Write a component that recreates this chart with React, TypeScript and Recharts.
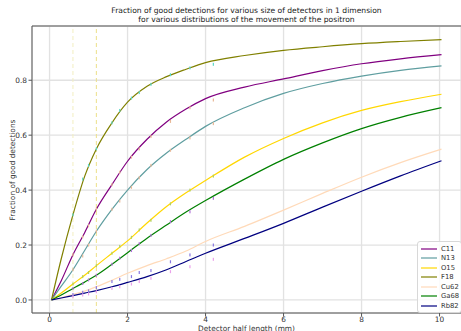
import React from 'react';
import { ComposedChart, Line, Scatter, XAxis, YAxis, CartesianGrid, ReferenceLine } from 'recharts';

// curves
const curveX = [0.05, 0.3, 0.6, 0.9, 1.2, 1.6, 2, 2.5, 3, 3.5, 4, 5, 6, 7, 8, 9, 10.05];
const c11 = [0, 0.07, 0.165, 0.245, 0.33, 0.42, 0.505, 0.585, 0.648, 0.695, 0.733, 0.775, 0.805, 0.835, 0.86, 0.878, 0.893];
const n13 = [0, 0.05, 0.11, 0.18, 0.25, 0.33, 0.4, 0.475, 0.535, 0.585, 0.632, 0.7, 0.752, 0.788, 0.815, 0.836, 0.852];
const o15 = [0, 0.025, 0.058, 0.09, 0.125, 0.17, 0.215, 0.28, 0.34, 0.39, 0.435, 0.52, 0.588, 0.645, 0.69, 0.722, 0.749];
const f18 = [0, 0.15, 0.31, 0.45, 0.55, 0.645, 0.72, 0.778, 0.813, 0.84, 0.864, 0.89, 0.909, 0.922, 0.933, 0.941, 0.948];
const cu62 = [0, 0.008, 0.02, 0.032, 0.048, 0.072, 0.097, 0.125, 0.15, 0.178, 0.213, 0.268, 0.327, 0.388, 0.447, 0.5, 0.549];
const ga68 = [0, 0.018, 0.042, 0.065, 0.09, 0.13, 0.172, 0.225, 0.273, 0.32, 0.362, 0.44, 0.512, 0.572, 0.624, 0.665, 0.7];
const rb82 = [0, 0.007, 0.016, 0.025, 0.034, 0.048, 0.064, 0.085, 0.11, 0.14, 0.17, 0.224, 0.279, 0.338, 0.396, 0.452, 0.507];

// simulated points (small tick marks)
const markX = [0.6, 0.85, 1.0, 1.2, 1.6, 1.8, 2.1, 2.3, 2.6, 3.1, 3.6, 4.2];
const f18Marks = [0.31, 0.44, 0.49, 0.55, 0.645, 0.69, 0.735, 0.755, 0.785, 0.82, 0.845, 0.858];
const c11Marks = [0.165, 0.23, 0.27, 0.33, 0.42, 0.465, 0.52, 0.55, 0.595, 0.65, 0.7, 0.728];
const n13Marks = [0.11, 0.16, 0.2, 0.25, 0.33, 0.36, 0.41, 0.445, 0.49, 0.545, 0.59, 0.642];
const o15Marks = [0.058, 0.085, 0.1, 0.125, 0.17, 0.195, 0.228, 0.255, 0.29, 0.35, 0.4, 0.451];
const ga68Marks = [0.042, 0.06, 0.073, 0.09, 0.13, 0.152, 0.18, 0.205, 0.235, 0.285, 0.321, 0.37];
const blueMarks = [0.02, 0.028, 0.033, 0.045, 0.067, 0.075, 0.085, 0.1, 0.107, 0.139, 0.164, 0.2];
const pinkMarks = [0.012, 0.018, 0.022, 0.03, 0.042, 0.048, 0.058, 0.067, 0.079, 0.103, 0.121, 0.148];

const xTicks = [0, 2, 4, 6, 8, 10];
const yTicks = [0, 0.2, 0.4, 0.6, 0.8];
const xDomain = [-0.45, 10.55];
const yDomain = [-0.0475, 0.9975];
const dashedX = [0.6, 1.2];

const series = [
  { key: 'C11', values: c11, color: '#800080' },
  { key: 'N13', values: n13, color: '#5f9ea0' },
  { key: 'O15', values: o15, color: '#ffd700' },
  { key: 'F18', values: f18, color: '#808000' },
  { key: 'Cu62', values: cu62, color: '#ffdab9' },
  { key: 'Ga68', values: ga68, color: '#008000' },
  { key: 'Rb82', values: rb82, color: '#000080' },
];

const markSets = [
  { key: 'mF18', values: f18Marks, color: '#5cd8c8' },
  { key: 'mC11', values: c11Marks, color: '#e8b898' },
  { key: 'mN13', values: n13Marks, color: '#e8b898' },
  { key: 'mO15', values: o15Marks, color: '#b0d060' },
  { key: 'mGa68', values: ga68Marks, color: '#b070d8' },
  { key: 'mBlue', values: blueMarks, color: '#8878e0' },
  { key: 'mPink', values: pinkMarks, color: '#eaa0ea' },
];

const chartData = curveX.map((x, i) => {
  const row: any = { x };
  series.forEach(s => { row[s.key] = s.values[i]; });
  return row;
});

const font = '"DejaVu Sans", sans-serif';

const TickMark = (props: any) => {
  const { cx, cy, fill } = props;
  return <rect x={cx - 0.6} y={cy - 1.5} width={1.2} height={3} fill={fill} />;
};

export default function App() {
  return (
    <div style={{ position: 'relative', width: 461, height: 331, overflow: 'hidden', fontFamily: font }}>
      <style>{'body{margin:0}'}</style>
      <div style={{ position: 'absolute', left: 32, width: 429, top: 6, textAlign: 'center', fontSize: 7.6, lineHeight: '9px', color: '#222' }}>
        Fraction of good detections for various size of detectors in 1 dimension<br />
        for various distributions of the movement of the positron
      </div>
      <div style={{
        position: 'absolute', left: 12, top: 170, transform: 'translate(-50%, -50%) rotate(-90deg)',
        whiteSpace: 'nowrap', fontSize: 7.4, color: '#333',
      }}>
        Fraction of good detections
      </div>
      <div style={{ position: 'absolute', left: 32, width: 429, top: 324, textAlign: 'center', fontSize: 7.4, color: '#333', whiteSpace: 'nowrap' }}>
        Detector half length (mm)
      </div>
      <ComposedChart
        width={461}
        height={331}
        data={chartData}
        margin={{ top: 26, right: 0, left: 0, bottom: 0 }}
        style={{ position: 'absolute', left: 0, top: 0 }}
      >
        <CartesianGrid stroke="#e2e2e2" strokeWidth={1.3} />
        <XAxis
          dataKey="x"
          type="number"
          domain={xDomain}
          ticks={xTicks}
          height={18}
          tickSize={3.5}
          tickMargin={0}
          stroke="#555"
          tick={{ fontSize: 7.4, fill: '#333', fontFamily: font }}
        />
        <YAxis
          type="number"
          domain={yDomain}
          ticks={yTicks}
          width={32}
          tickSize={3.5}
          tickMargin={1.5}
          stroke="#555"
          tickFormatter={(v: number) => v.toFixed(1)}
          tick={{ fontSize: 7.4, fill: '#333', fontFamily: font }}
        />
        <ReferenceLine y={yDomain[1]} stroke="#555" strokeWidth={1} />
        {dashedX.map((x, i) => (
          <ReferenceLine key={`d-${i}`} x={x} stroke={i === 0 ? '#f2eec0' : '#ece08a'} strokeDasharray="4 3" strokeWidth={1} />
        ))}
        {series.map(s => (
          <Line
            key={s.key}
            dataKey={s.key}
            type="monotone"
            stroke={s.color}
            strokeWidth={1.2}
            dot={false}
            isAnimationActive={false}
          />
        ))}
        {markSets.map(m => (
          <Scatter
            key={m.key}
            data={markX.map((x, i) => ({ x, y: m.values[i] }))}
            dataKey="y"
            fill={m.color}
            shape={TickMark}
            isAnimationActive={false}
          />
        ))}
      </ComposedChart>
      {/* legend */}
      <div style={{
        position: 'absolute', left: 417, top: 241, width: 40,
        border: '1px solid #d8d8d8', borderRadius: 3, background: 'rgba(255,255,255,0.85)',
        padding: '2px 0 1px 3px', fontSize: 6.8, color: '#333',
      }}>
        {series.map(s => (
          <div key={s.key} style={{ display: 'flex', alignItems: 'center', height: 9.5 }}>
            <svg width={16} height={4} style={{ marginRight: 4 }}>
              <line x1={0} y1={2} x2={16} y2={2} stroke={s.color} strokeWidth={1.6} opacity={0.75} />
            </svg>
            <span>{s.key}</span>
          </div>
        ))}
      </div>
    </div>
  );
}
